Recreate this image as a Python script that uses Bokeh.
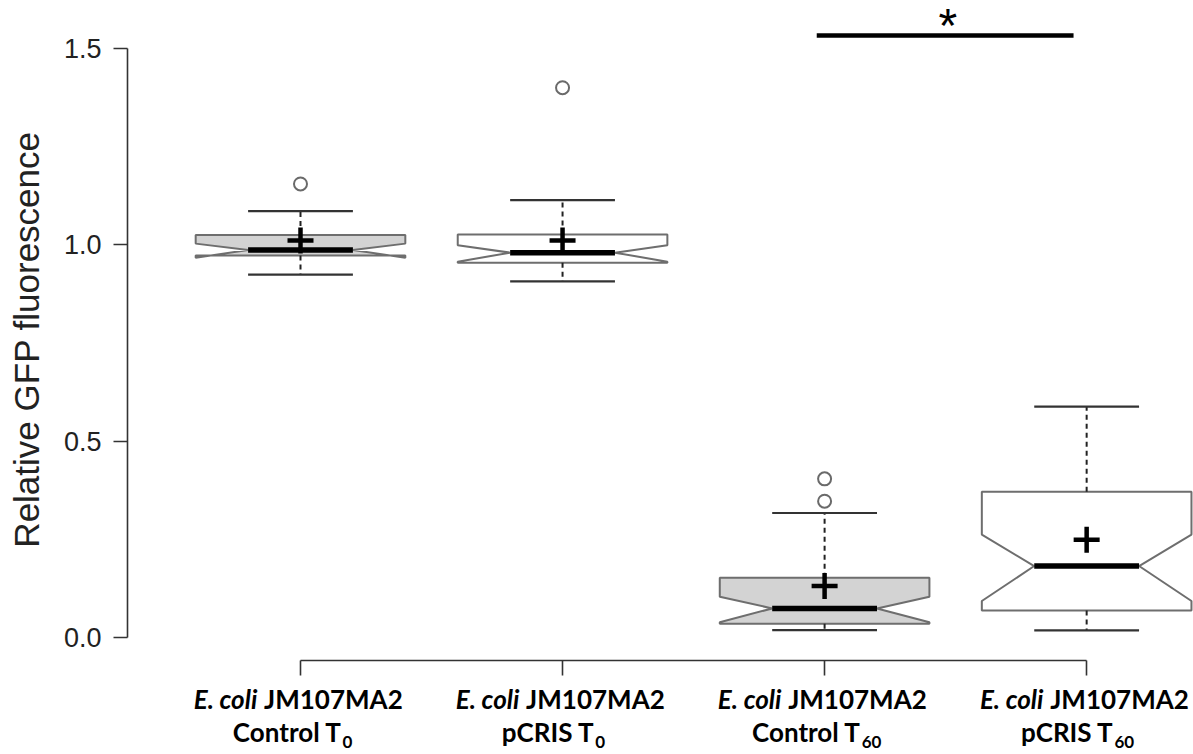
import math
from bokeh.plotting import figure
from bokeh.models import Range1d, FixedTicker, NumeralTickFormatter
from bokeh.core.properties import value
from bokeh.embed import file_html
from bokeh.resources import INLINE

# ---------------- data ----------------
strain = ["E. coli", "E. coli", "E. coli", "E. coli"]
strain_id = ["JM107MA2", "JM107MA2", "JM107MA2", "JM107MA2"]
condition = ["Control T", "pCRIS T", "Control T", "pCRIS T"]
time_sub = ["0", "0", "60", "60"]
positions = [1, 2, 3, 4]

q1 = [0.973, 0.954, 0.035, 0.069]
q3 = [1.025, 1.026, 0.152, 0.371]
medians = [0.987, 0.980, 0.074, 0.182]
notch_lo = [0.967, 0.957, 0.039, 0.093]
notch_hi = [1.003, 0.999, 0.104, 0.262]
whisk_lo = [0.924, 0.907, 0.019, 0.018]
whisk_hi = [1.086, 1.114, 0.317, 0.588]
means = [1.011, 1.011, 0.131, 0.249]

out_group = [1, 2, 3, 3]
out_vals = [1.155, 1.400, 0.404, 0.347]

sig_pair = (3, 4)
sig_level = 1.533
sig_label = "*"

y_ticks = [0.0, 0.5, 1.0, 1.5]
y_title = "Relative GFP fluorescence"

# ---------------- styling / layout ----------------
W, H = 1193, 754
box_fills = ["#d3d3d3", "#ffffff", "#d3d3d3", "#ffffff"]
HW = 0.40   # half box width
NW = 0.20   # half notch / median / cap width
PXY = 392.7           # px per y unit
PXX = 262.05          # px per x unit
y_end = 637 / PXY
y_start = y_end - H / PXY
x_start = 1 - 300 / PXX
x_end = x_start + W / PXX
SHIFT_EM = 0.46       # empirical baseline correction of svg text


def dy(px):  # screen row (from top) -> data y
    return y_end - px / PXY


def dx(px):  # screen column (from left) -> data x
    return x_start + px / PXX


p = figure(width=W, height=H, output_backend="svg", toolbar_location=None,
           title=None, x_range=Range1d(x_start, x_end), y_range=Range1d(y_start, y_end),
           min_border=0, min_border_left=0, min_border_right=0, min_border_top=0,
           min_border_bottom=0)
p.background_fill_color = "white"
p.border_fill_color = "white"
p.outline_line_color = None
p.xgrid.visible = False
p.ygrid.visible = False

# boxes (notched, R style)
xs, ys = [], []
for x, a, b, m, nl, nh in zip(positions, q1, q3, medians, notch_lo, notch_hi):
    xs.append([x - HW, x - HW, x - NW, x - HW, x - HW, x + HW, x + HW, x + NW, x + HW, x + HW])
    ys.append([a, nl, m, nh, b, b, nh, m, nl, a])
p.patches(xs=xs, ys=ys, fill_color=box_fills, line_color="#6e6e6e", line_width=2)

# whiskers
p.segment(x0=positions, y0=q3, x1=positions, y1=whisk_hi, line_color="#222222",
          line_width=2, line_dash="5 4")
p.segment(x0=positions, y0=q1, x1=positions, y1=whisk_lo, line_color="#222222",
          line_width=2, line_dash="5 4")
# caps
p.segment(x0=[x - NW for x in positions], y0=whisk_hi, x1=[x + NW for x in positions],
          y1=whisk_hi, line_color="#333333", line_width=2.2)
p.segment(x0=[x - NW for x in positions], y0=whisk_lo, x1=[x + NW for x in positions],
          y1=whisk_lo, line_color="#333333", line_width=2.2)
# medians
p.segment(x0=[x - NW for x in positions], y0=medians, x1=[x + NW for x in positions],
          y1=medians, line_color="black", line_width=5.5)
# means
p.scatter(x=positions, y=means, marker="cross", size=26, line_color="black", line_width=4.5)
# outliers
p.scatter(x=out_group, y=out_vals, marker="circle", size=13, fill_color=None,
          line_color="#6a6a6a", line_width=2)

# significance bar + star
p.segment(x0=[sig_pair[0] - 0.03], y0=[sig_level], x1=[sig_pair[1] - 0.05], y1=[sig_level],
          line_color="black", line_width=4.5)
p.text(x=[(sig_pair[0] + sig_pair[1]) / 2 - 0.03], y=[dy(25)], text=[sig_label],
       text_font=value("Liberation Sans"), text_font_size="48px", text_align="center",
       text_baseline="alphabetic", text_color="black")

# y axis (drawn at a fixed spot inside the full-canvas frame)
yax = p.yaxis[0]
yax.fixed_location = dx(127)
yax.bounds = (0, 1.5)
yax.ticker = FixedTicker(ticks=y_ticks)
yax.formatter = NumeralTickFormatter(format="0.0")
yax.minor_tick_line_color = None
yax.major_tick_in = 0
yax.major_tick_out = 14
yax.major_label_standoff = 12
yax.axis_line_width = 1.6
yax.axis_line_color = "#333333"
yax.major_tick_line_width = 1.6
yax.major_tick_line_color = "#333333"
yax.major_label_text_font = "Liberation Sans"
yax.major_label_text_font_size = "27px"
yax.major_label_text_color = "#222222"

p.text(x=[dx(26)], y=[dy(339)], text=[y_title], angle=math.pi / 2,
       text_font=value("Liberation Sans"), text_font_size="35px", text_align="center",
       text_baseline="middle", text_color="#222222")

# x axis
xax = p.xaxis[0]
xax.fixed_location = dy(660)
xax.bounds = (1, 4)
xax.ticker = FixedTicker(ticks=positions)
xax.major_label_overrides = {x: "" for x in positions}
xax.minor_tick_line_color = None
xax.major_tick_in = 0
xax.major_tick_out = 15
xax.axis_line_width = 1.6
xax.axis_line_color = "#333333"
xax.major_tick_line_width = 1.6
xax.major_tick_line_color = "#333333"

# category labels (two lines, italic species, subscript time)
FONT = value("Lato")
FS = 26
SUB_FS = 17
W_EM = {"E. coli": 2.62, "JM107MA2": 5.07, "Control T": 4.15, "pCRIS T": 3.44,
        "0": 0.58, "60": 1.16}
SPACE = 0.26 * FS
C = -8
off_sp, off_id, off_cond, off_sub = [], [], [], []
for sp, sid, cond, sub in zip(strain, strain_id, condition, time_sub):
    w1 = W_EM[sp] * FS
    w2 = W_EM[sid] * FS
    split = C - (w1 + SPACE + w2) / 2 + w1
    off_sp.append(split)
    off_id.append(split + SPACE)
    wm = W_EM[cond] * FS
    ws = W_EM[sub] * SUB_FS
    split2 = C + (wm - ws) / 2
    off_cond.append(split2)
    off_sub.append(split2 + 1)

row1 = [dy(710 - SHIFT_EM * FS)] * 4
row2 = [dy(743 - SHIFT_EM * FS)] * 4
row2s = [dy(749 - SHIFT_EM * SUB_FS)] * 4
p.text(x=positions, y=row1, text=strain, x_offset=off_sp, text_font=FONT,
       text_font_style="bold italic", text_font_size=f"{FS}px", text_align="right",
       text_baseline="alphabetic", text_color="black")
p.text(x=positions, y=row1, text=strain_id, x_offset=off_id, text_font=FONT,
       text_font_style="bold", text_font_size=f"{FS}px", text_align="left",
       text_baseline="alphabetic", text_color="black")
p.text(x=positions, y=row2, text=condition, x_offset=off_cond, text_font=FONT,
       text_font_style="bold", text_font_size=f"{FS}px", text_align="right",
       text_baseline="alphabetic", text_color="black")
p.text(x=positions, y=row2s, text=time_sub, x_offset=off_sub, text_font=FONT,
       text_font_style="bold", text_font_size=f"{SUB_FS}px", text_align="left",
       text_baseline="alphabetic", text_color="black")

open("out.html", "w").write(file_html(p, INLINE))
